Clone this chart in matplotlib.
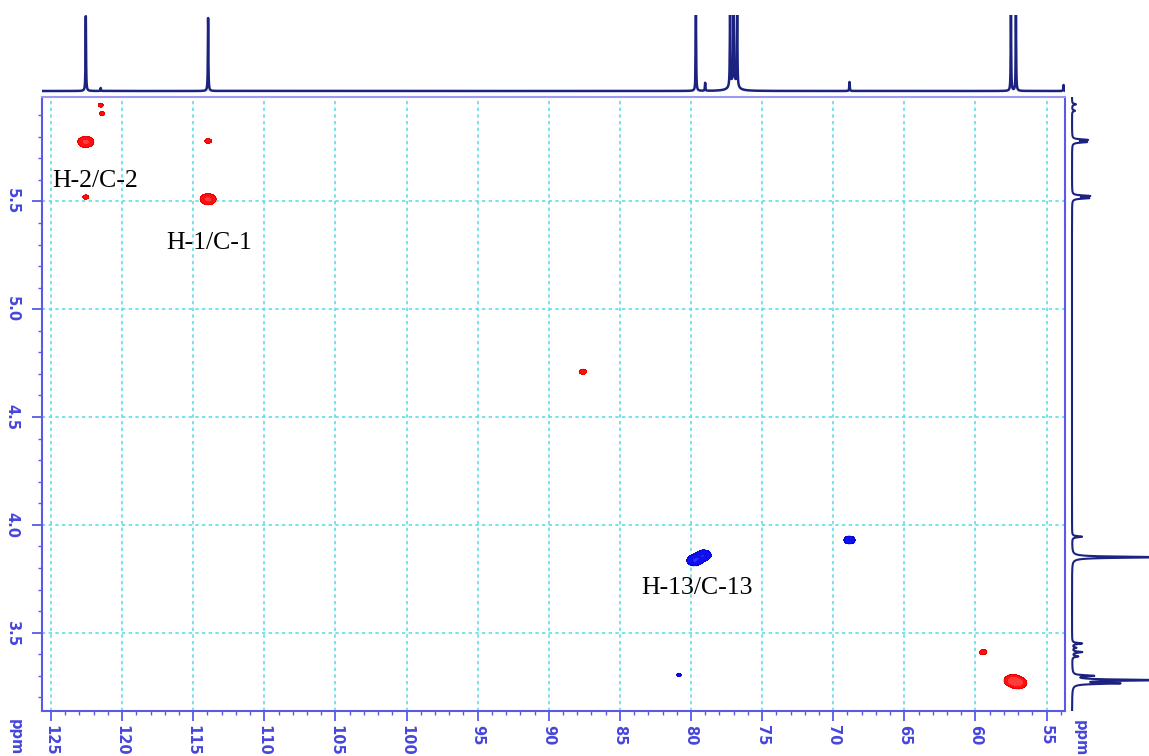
import numpy as np
import matplotlib

matplotlib.use("Agg")
import matplotlib.pyplot as plt
from matplotlib.ticker import MultipleLocator

W, H, DPI = 1149, 756, 100

# HSQC cross peaks: 13C ppm, 1H ppm, intensity (negative = CH2, blue)
peak_c = [122.55, 122.55, 121.5, 121.4, 113.95, 113.95, 87.6,
          79.75, 79.1, 68.85, 80.85, 59.45, 57.4, 56.95]
peak_h = [5.776, 5.52, 5.948, 5.905, 5.51, 5.78, 4.71,
          3.835, 3.86, 3.93, 3.305, 3.41, 3.279, 3.266]
peak_i = [3.6, 1.2, 1.08, 1.1, 3.6, 1.25, 1.3,
          -3.4, -3.0, -1.9, -1.1, 1.3, 3.9, 3.5]

# 13C projection (top): ppm and height
c13_ppm = [122.55, 121.5, 113.95, 79.65, 79.0, 77.25, 77.0, 76.75,
           68.85, 57.5, 57.15, 53.8]
c13_height = [75, 3, 73, 76, 8, 80, 80, 80, 9, 76, 76, 6]

# 1H projection (right): ppm and height
h1_ppm = [5.95, 5.92, 5.785, 5.775, 5.525, 5.515, 3.945, 3.85,
          3.45, 3.43, 3.41, 3.39, 3.30, 3.28, 3.265]
h1_height = [4, 3, 15, 14, 17, 16, 10, 90, 10, 4, 10, 6, 20, 90, 45]

labels = ["H-2/C-2", "H-1/C-1", "H-13/C-13"]
label_c = [124.93, 116.9, 83.5]
label_h = [5.593, 5.308, 3.707]

x_lim = (125.63, 53.7)
y_lim = (3.137, 5.984)

AXIS_BLUE = "#5a5ae6"
TEXT_BLUE = "#4646dc"
GRID_CYAN = "#5fdde6"
NAVY = "#1c2280"


def lorentz(x, pos, hts, w):
    out = np.zeros_like(x)
    for p, h in zip(pos, hts):
        out += h * w**2 / ((x - p) ** 2 + w**2)
    return out


fig = plt.figure(figsize=(W / DPI, H / DPI), dpi=DPI)

# main 2D panel
ax = fig.add_axes([42 / W, 45 / H, (1065 - 42) / W, (711 - 97) / H])
cc = np.linspace(x_lim[1], x_lim[0], 2400)
hh = np.linspace(y_lim[0], y_lim[1], 1400)
C, Hg = np.meshgrid(cc, hh)
Z = np.zeros_like(C)
for c0, h0, a in zip(peak_c, peak_h, peak_i):
    Z += a * np.exp(-0.5 * ((C - c0) / 0.35) ** 2 - 0.5 * ((Hg - h0) / 0.016) ** 2)
ax.contourf(C, Hg, Z, levels=[1.0, 3.2, 100], colors=["#ff1010", "#ff3c3c"], zorder=3)
ax.contour(C, Hg, Z, levels=[1.0], colors=["#e00000"], linewidths=0.6, zorder=3)
ax.contourf(C, Hg, Z, levels=[-100, -3.0, -1.0], colors=["#3030ff", "#1010ee"], zorder=3)
ax.contour(C, Hg, Z, levels=[-1.0], colors=["#0000d0"], linewidths=0.6, zorder=3)

ax.set_xlim(*x_lim)
ax.set_ylim(*y_lim)
ax.xaxis.set_major_locator(MultipleLocator(5))
ax.xaxis.set_minor_locator(MultipleLocator(1))
ax.yaxis.set_major_locator(MultipleLocator(0.5))
ax.yaxis.set_minor_locator(MultipleLocator(0.1))
ax.grid(True, which="major", color=GRID_CYAN, linestyle=(0, (2, 2)), linewidth=1.2, zorder=1)
for s in ax.spines.values():
    s.set_color(AXIS_BLUE)
    s.set_linewidth(1.5)
ax.spines["top"].set_color("#9a9af0")
ax.tick_params(which="major", length=7, width=1.3, color=AXIS_BLUE, direction="out")
ax.tick_params(which="minor", length=3, width=1.0, color=AXIS_BLUE, direction="out")
ax.tick_params(axis="x", pad=3)
ax.tick_params(axis="y", pad=9)
for t in ax.get_xticklabels() + ax.get_yticklabels():
    t.set_rotation(-90)
    t.set_color(TEXT_BLUE)
    t.set_fontweight("bold")
    t.set_fontsize(10.5)
for t in ax.get_yticklabels():
    t.set_va("center")

for txt, c0, h0 in zip(labels, label_c, label_h):
    ax.text(c0, h0, txt, ha="left", va="center", fontsize=18.5,
            family="Liberation Serif", color="black", zorder=4)

fig.text(15 / W, 1 - 737 / H, "ppm", rotation=-90, color=TEXT_BLUE,
         fontsize=10.5, fontweight="bold", ha="center", va="center")
fig.text(1080 / W, 1 - 738 / H, "ppm", rotation=-90, color=TEXT_BLUE,
         fontsize=10.5, fontweight="bold", ha="center", va="center")

# top 13C projection
axt = fig.add_axes([42 / W, (756 - 97) / H, (1065 - 42) / W, (97 - 15) / H])
xc = np.linspace(x_lim[1], x_lim[0], 30000)
yc = lorentz(xc, c13_ppm, c13_height, 0.02) + lorentz(xc, [77.0], [10], 0.25)
axt.plot(xc, yc, color=NAVY, linewidth=1.8)
axt.set_xlim(*x_lim)
axt.set_ylim(-6, 76)
axt.axis("off")

# right 1H projection
axr = fig.add_axes([1065 / W, 45 / H, (1149 - 1065) / W, (711 - 97) / H])
yh = np.linspace(y_lim[0], y_lim[1], 8000)
xh = lorentz(yh, h1_ppm, h1_height, 0.003)
axr.plot(xh, yh, color=NAVY, linewidth=1.5)
axr.set_xlim(-7, 77)
axr.set_ylim(*y_lim)
axr.axis("off")

fig.savefig("out.png", dpi=DPI)
